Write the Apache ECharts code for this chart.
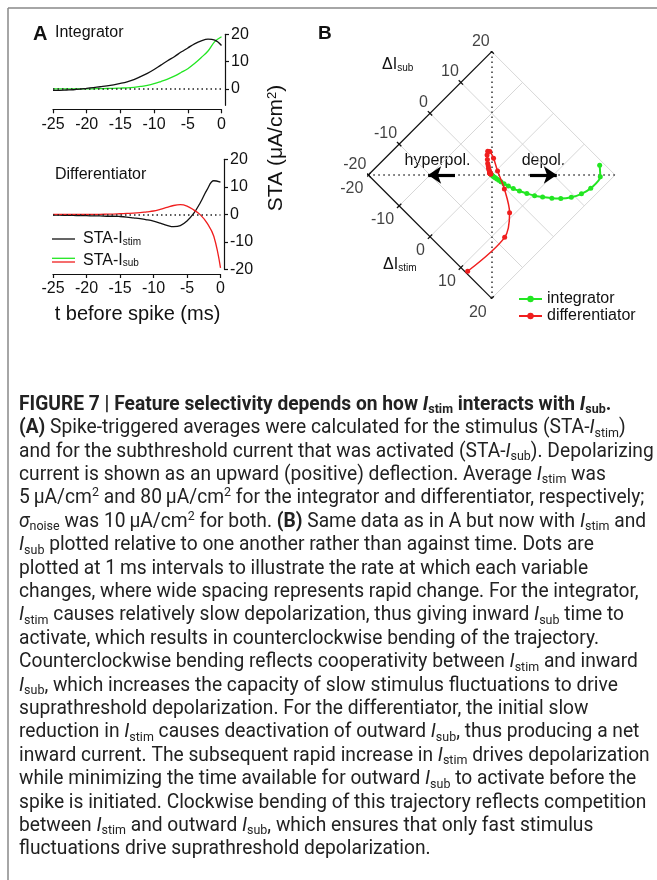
<!DOCTYPE html>
<html>
<head>
<meta charset="utf-8">
<script src="https://cdn.jsdelivr.net/npm/echarts@6/dist/echarts.min.js"></script>
<style>
  html, body { margin: 0; padding: 0; background: #fff; }
  #chart { width: 657px; height: 880px; }
</style>
</head>
<body>
<div id="chart"></div>
<script>
// Time before the spike (ms), sampled every 1 ms
const timeMs = [-25,-24,-23,-22,-21,-20,-19,-18,-17,-16,-15,-14,-13,-12,-11,-10,-9,-8,-7,-6,-5,-4,-3,-2,-1,0];

// Spike-triggered averages (uA/cm2)
const integratorStim = [-0.5,-0.5,-0.4,-0.3,-0.1,0.2,0.5,0.8,1.1,1.5,2.0,2.6,3.4,4.5,5.7,7.1,8.7,10.3,11.8,13.5,15.0,16.5,17.6,18.2,17.9,15.9];
const integratorSub  = [0,0,0,0,0,0,0.05,0.1,0.15,0.2,0.3,0.4,0.6,0.9,1.3,1.9,2.7,3.6,4.7,6.0,7.4,9.3,11.5,13.9,17.3,19.1];
const differentiatorStim = [-0.3,-0.3,-0.4,-0.4,-0.5,-0.5,-0.6,-0.6,-0.7,-0.7,-0.8,-1.0,-1.3,-1.6,-2.0,-2.5,-3.2,-4.0,-4.5,-4.1,-2.4,0.3,4.3,9.0,12.2,11.7];
const differentiatorSub  = [0,0,0,0,0,0,0,0,0.05,0.1,0.2,0.3,0.4,0.6,0.9,1.2,1.8,2.5,3.2,3.5,3.0,1.6,-0.2,-3.2,-8.0,-19.5];

// Tick values
const timeTicks = [-25,-20,-15,-10,-5,0];
const staTicksTop = [0,10,20];
const staTicksBottom = [-20,-10,0,10,20];
const deltaTicks = [-20,-10,0,10,20];

const FONT = '"Liberation Sans", Arial, sans-serif';
const INK = '#111';
const GREEN = '#22e622';
const RED = '#f01e1e';

// Panel B: stim/sub plane rotated 45 deg; horizontal = stim + sub (net current)
const toDiamond = (stim, sub) => [stim + sub, sub - stim];
const pairs = (xs, ys) => xs.map((x, i) => [x, ys[i]]);

const zeroLine = {
  silent: true, symbol: 'none', label: { show: false },
  lineStyle: { color: '#222', type: [1.5, 3], width: 1.5 },
  data: [{ yAxis: 0 }]
};

const timeAxis = (gi, offset) => ({
  gridIndex: gi, type: 'value',
  min: timeTicks[0], max: timeTicks[timeTicks.length - 1], interval: 5,
  offset: offset,
  axisLine: { show: true, onZero: false, lineStyle: { color: INK, width: 1.2 } },
  axisTick: { show: true, length: 4, lineStyle: { color: INK, width: 1.2 } },
  axisLabel: { show: true, margin: 7, color: INK, fontSize: 16, fontFamily: FONT },
  splitLine: { show: false }
});

const staAxis = (gi, min, max, ticks) => ({
  gridIndex: gi, type: 'value', position: 'right', min: min, max: max,
  offset: 3.5,
  axisLine: { show: true, onZero: false, lineStyle: { color: INK, width: 1.2 } },
  axisTick: { show: true, length: 4, customValues: ticks, lineStyle: { color: INK, width: 1.2 } },
  axisLabel: { show: true, margin: 6, color: INK, fontSize: 16, fontFamily: FONT, customValues: ticks },
  splitLine: { show: false }
});

// Diamond grid segments
const gridSegs = [];
deltaTicks.forEach(g => {
  if (g !== -20) {
    gridSegs.push({ coords: [toDiamond(g, -20), toDiamond(g, 20)] });
    gridSegs.push({ coords: [toDiamond(-20, g), toDiamond(20, g)] });
  }
});
const lo = deltaTicks[0], hi = deltaTicks[deltaTicks.length - 1];
const axisSegs = [
  { coords: [toDiamond(lo, lo), toDiamond(lo, hi)] },   // delta I_sub axis
  { coords: [toDiamond(lo, lo), toDiamond(hi, lo)] }    // delta I_stim axis
];
const tickSegs = [];
deltaTicks.forEach(g => {
  tickSegs.push({ coords: [toDiamond(lo - 0.7, g), toDiamond(lo + 0.7, g)] });
  tickSegs.push({ coords: [toDiamond(g, lo - 0.7), toDiamond(g, lo + 0.7)] });
});
const diagSegs = [
  { coords: [toDiamond(lo, lo), toDiamond(hi, hi)] },
  { coords: [toDiamond(lo, hi), toDiamond(hi, lo)] }
];
const subLabels = deltaTicks.map(g => [...toDiamond(lo, g), String(g)]);
const stimLabels = deltaTicks.map(g => [...toDiamond(g, lo), String(g)]);

const captionLines = [
  '{b|FIGURE 7 | Feature selectivity depends on how }{bi|I}{bs|stim}{b| interacts with }{bi|I}{bs|sub}{b|.}',
  '{b|(A)} Spike-triggered averages were calculated for the stimulus (STA-{i|I}{s|stim})',
  'and for the subthreshold current that was activated (STA-{i|I}{s|sub}). Depolarizing',
  'current is shown as an upward (positive) deflection. Average {i|I}{s|stim} was',
  '5\u2009\u03bcA/cm{sup|2} and 80\u2009\u03bcA/cm{sup|2} for the integrator and differentiator, respectively;',
  '{i|\u03c3}{s|noise} was 10\u2009\u03bcA/cm{sup|2} for both. {b|(B)} Same data as in A but now with {i|I}{s|stim} and',
  '{i|I}{s|sub} plotted relative to one another rather than against time. Dots are',
  'plotted at 1\u2009ms intervals to illustrate the rate at which each variable',
  'changes, where wide spacing represents rapid change. For the integrator,',
  '{i|I}{s|stim} causes relatively slow depolarization, thus giving inward {i|I}{s|sub} time to',
  'activate, which results in counterclockwise bending of the trajectory.',
  'Counterclockwise bending reflects cooperativity between {i|I}{s|stim} and inward',
  '{i|I}{s|sub}, which increases the capacity of slow stimulus fluctuations to drive',
  'suprathreshold depolarization. For the differentiator, the initial slow',
  'reduction in {i|I}{s|stim} causes deactivation of outward {i|I}{s|sub}, thus producing a net',
  'inward current. The subsequent rapid increase in {i|I}{s|stim} drives depolarization',
  'while minimizing the time available for outward {i|I}{s|sub} to activate before the',
  'spike is initiated. Clockwise bending of this trajectory reflects competition',
  'between {i|I}{s|stim} and outward {i|I}{s|sub}, which ensures that only fast stimulus',
  'fluctuations drive suprathreshold depolarization.'
];

const CAP_FONT = 'Roboto, "Liberation Sans", sans-serif';
const CAP_SIZE = 20, CAP_LH = 23.4, CAP_COLOR = '#222';
const capRich = {
  b:   { fontWeight: 'bold', fontSize: CAP_SIZE, lineHeight: CAP_LH, fontFamily: CAP_FONT, fill: CAP_COLOR },
  bi:  { fontWeight: 'bold', fontStyle: 'italic', fontSize: CAP_SIZE, lineHeight: CAP_LH, fontFamily: CAP_FONT, fill: CAP_COLOR },
  bs:  { fontWeight: 'bold', fontSize: 13, lineHeight: 9, verticalAlign: 'bottom', fontFamily: CAP_FONT, fill: CAP_COLOR },
  i:   { fontStyle: 'italic', fontSize: CAP_SIZE, lineHeight: CAP_LH, fontFamily: CAP_FONT, fill: CAP_COLOR },
  s:   { fontSize: 13, lineHeight: 9, verticalAlign: 'bottom', fontFamily: CAP_FONT, fill: CAP_COLOR },
  sup: { fontSize: 13, lineHeight: 10, verticalAlign: 'top', fontFamily: CAP_FONT, fill: CAP_COLOR }
};

const panelRich = {
  s: { fontSize: 10, lineHeight: 7, verticalAlign: 'bottom', fontFamily: FONT, fill: INK },
  sup: { fontSize: 13, lineHeight: 10, verticalAlign: 'top', fontFamily: FONT, fill: INK }
};

const chart = echarts.init(document.getElementById('chart'), null, { renderer: 'canvas' });

const option = {
  animation: false,
  backgroundColor: '#fff',
  textStyle: { fontFamily: FONT },
  grid: [
    { left: 53, top: 34.3, width: 168.5, height: 71, containLabel: false, outerBoundsMode: 'none' },
    { left: 53, top: 159.3, width: 167.5, height: 110, containLabel: false, outerBoundsMode: 'none' },
    { left: 368.3, top: 51.6, width: 246.8, height: 246.8, containLabel: false, outerBoundsMode: 'none' }
  ],
  xAxis: [
    timeAxis(0, 4),
    timeAxis(1, 4.7),
    { gridIndex: 2, type: 'value', min: -40, max: 40, show: false }
  ],
  yAxis: [
    staAxis(0, -6, 20, staTicksTop),
    Object.assign(staAxis(1, -20, 20, staTicksBottom), { interval: 10 }),
    { gridIndex: 2, type: 'value', min: -40, max: 40, show: false }
  ],
  legend: {
    data: ['integrator', 'differentiator'],
    left: 518, top: 291, orient: 'vertical',
    itemWidth: 23, itemHeight: 8, itemGap: 1,
    padding: 0,
    textStyle: { fontSize: 16, fontFamily: FONT, color: INK, lineHeight: 16 }
  },
  series: [
    // ---- Panel A, integrator ----
    { type: 'line', name: 'A int sub', xAxisIndex: 0, yAxisIndex: 0, data: pairs(timeMs, integratorSub),
      smooth: 0.4, showSymbol: false, lineStyle: { color: GREEN, width: 1.3 }, markLine: zeroLine, z: 3 },
    { type: 'line', name: 'A int stim', xAxisIndex: 0, yAxisIndex: 0, data: pairs(timeMs, integratorStim),
      smooth: 0.4, showSymbol: false, lineStyle: { color: INK, width: 1.3 }, z: 4 },
    // ---- Panel A, differentiator ----
    { type: 'line', name: 'A dif stim', xAxisIndex: 1, yAxisIndex: 1, data: pairs(timeMs, differentiatorStim),
      smooth: 0.4, showSymbol: false, lineStyle: { color: INK, width: 1.3 }, markLine: zeroLine, z: 3 },
    { type: 'line', name: 'A dif sub', xAxisIndex: 1, yAxisIndex: 1, data: pairs(timeMs, differentiatorSub),
      smooth: 0.4, showSymbol: false, lineStyle: { color: RED, width: 1.3 }, z: 4 },
    // ---- Panel B ----
    { type: 'lines', coordinateSystem: 'cartesian2d', xAxisIndex: 2, yAxisIndex: 2, silent: true,
      data: gridSegs, lineStyle: { color: '#d2d2d2', width: 0.9, opacity: 1 }, z: 1 },
    { type: 'lines', coordinateSystem: 'cartesian2d', xAxisIndex: 2, yAxisIndex: 2, silent: true,
      data: diagSegs, lineStyle: { color: '#333', width: 1.5, type: [1.5, 3.5], opacity: 1 }, z: 2 },
    { type: 'lines', coordinateSystem: 'cartesian2d', xAxisIndex: 2, yAxisIndex: 2, silent: true,
      data: axisSegs.concat(tickSegs), lineStyle: { color: INK, width: 1.3, opacity: 1 }, z: 3 },
    { type: 'lines', coordinateSystem: 'cartesian2d', xAxisIndex: 2, yAxisIndex: 2, silent: true,
      data: [ { coords: [[-11.9, 0], [-20.6, 0]] }, { coords: [[12.4, 0], [21.1, 0]] } ],
      symbol: ['none', 'arrow'], symbolSize: 13,
      lineStyle: { color: '#000', width: 3.2, opacity: 1 }, z: 4 },
    { type: 'scatter', xAxisIndex: 2, yAxisIndex: 2, silent: true, symbolSize: 0,
      data: subLabels,
      label: { show: true, formatter: p => p.data[2], position: 'inside', align: 'right', verticalAlign: 'middle',
               offset: [-2, -10.5], color: INK, fontSize: 16, fontFamily: FONT } },
    { type: 'scatter', xAxisIndex: 2, yAxisIndex: 2, silent: true, symbolSize: 0,
      data: stimLabels,
      label: { show: true, formatter: p => p.data[2], position: 'inside', align: 'right', verticalAlign: 'middle',
               offset: [-5, 14], color: INK, fontSize: 16, fontFamily: FONT } },
    { type: 'line', name: 'integrator', xAxisIndex: 2, yAxisIndex: 2,
      data: timeMs.map((t, i) => toDiamond(integratorStim[i], integratorSub[i])),
      smooth: 0.3, symbol: 'circle', symbolSize: 5, showSymbol: true,
      lineStyle: { color: GREEN, width: 2 }, itemStyle: { color: GREEN }, z: 5 },
    { type: 'line', name: 'differentiator', xAxisIndex: 2, yAxisIndex: 2,
      data: timeMs.map((t, i) => toDiamond(differentiatorStim[i], differentiatorSub[i])),
      smooth: 0.3, symbol: 'circle', symbolSize: 5, showSymbol: true,
      lineStyle: { color: RED, width: 1.5 }, itemStyle: { color: RED }, z: 6 }
  ],
  graphic: [
    // frame
    { type: 'line', shape: { x1: 8, y1: 8, x2: 657, y2: 8 }, style: { stroke: '#888', lineWidth: 1.5 } },
    { type: 'line', shape: { x1: 8, y1: 8, x2: 8, y2: 880 }, style: { stroke: '#888', lineWidth: 1.5 } },
    // panel A labels
    { type: 'text', x: 33, y: 34, style: { text: 'A', fontSize: 20, fontWeight: 'bold', fontFamily: FONT, fill: INK, verticalAlign: 'middle' } },
    { type: 'text', x: 55, y: 33, style: { text: 'Integrator', fontSize: 16, fontFamily: FONT, fill: INK, verticalAlign: 'middle' } },
    { type: 'text', x: 55, y: 175, style: { text: 'Differentiator', fontSize: 16, fontFamily: FONT, fill: INK, verticalAlign: 'middle' } },
    { type: 'text', x: 137.5, y: 314, style: { text: 't before spike (ms)', fontSize: 20, fontFamily: FONT, fill: INK, align: 'center', verticalAlign: 'middle' } },
    { type: 'text', x: 276, y: 148, rotation: Math.PI / 2,
      style: { text: 'STA (\u03bcA/cm{sup|2})', rich: panelRich, fontSize: 21, fontFamily: FONT, fill: INK, align: 'center', verticalAlign: 'middle' } },
    // panel A legend
    { type: 'line', shape: { x1: 52, y1: 239, x2: 75, y2: 239 }, style: { stroke: INK, lineWidth: 1.3 } },
    { type: 'line', shape: { x1: 52, y1: 258.3, x2: 75, y2: 258.3 }, style: { stroke: GREEN, lineWidth: 1.3 } },
    { type: 'line', shape: { x1: 52, y1: 262, x2: 75, y2: 262 }, style: { stroke: RED, lineWidth: 1.3 } },
    { type: 'text', x: 83, y: 239, style: { text: 'STA-I{s|stim}', rich: panelRich, fontSize: 16, fontFamily: FONT, fill: INK, verticalAlign: 'middle' } },
    { type: 'text', x: 83, y: 260.5, style: { text: 'STA-I{s|sub}', rich: panelRich, fontSize: 16, fontFamily: FONT, fill: INK, verticalAlign: 'middle' } },
    // panel B labels
    { type: 'text', x: 318, y: 34, style: { text: 'B', fontSize: 19, fontWeight: 'bold', fontFamily: FONT, fill: INK, verticalAlign: 'middle' } },
    { type: 'text', x: 382, y: 65, style: { text: '\u0394I{s|sub}', rich: panelRich, fontSize: 16, fontFamily: FONT, fill: INK, verticalAlign: 'middle' } },
    { type: 'text', x: 383, y: 265, style: { text: '\u0394I{s|stim}', rich: panelRich, fontSize: 16, fontFamily: FONT, fill: INK, verticalAlign: 'middle' } },
    { type: 'text', x: 437.5, y: 160.5, style: { text: 'hyperpol.', fontSize: 16, fontFamily: FONT, fill: INK, align: 'center', verticalAlign: 'middle' } },
    { type: 'text', x: 543.5, y: 160.5, style: { text: 'depol.', fontSize: 16, fontFamily: FONT, fill: INK, align: 'center', verticalAlign: 'middle' } },
    // caption
    { type: 'text', x: 19, y: 393, scaleX: 0.96,
      style: { text: captionLines.join('\n'), rich: capRich, fontSize: CAP_SIZE, lineHeight: CAP_LH,
               fontFamily: CAP_FONT, fill: CAP_COLOR, align: 'left', verticalAlign: 'top' } }
  ]
};

chart.setOption(option);
</script>
</body>
</html>
